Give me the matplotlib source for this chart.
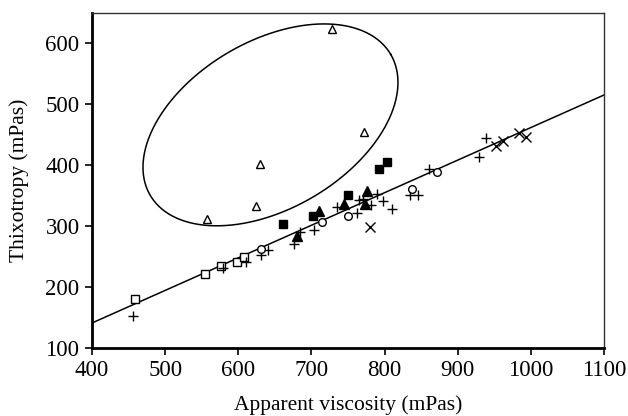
import numpy as np
import matplotlib
matplotlib.use("Agg")
import matplotlib.pyplot as plt

plt.rcParams['font.family'] = ['Liberation Serif', 'DejaVu Serif']

# data
sq_open_x = [458.8, 554.5, 576, 598.7, 607.8]
sq_open_y = [180, 221, 235, 240.5, 248.7]

plus_x = [455.6, 578.7, 610, 631, 641, 676.6, 684, 704, 735.5, 762, 765.5,
          771, 781, 790, 797.4, 810.6, 834.8, 846, 861, 929.5, 938.7]
plus_y = [152, 230.7, 241.5, 252.5, 261, 270.5, 291, 293.4, 330.6, 322, 342.6,
          343.8, 334.4, 351.9, 341.5, 327.9, 350.8, 350.8, 393, 412.6, 444.8]

circ_x = [630.6, 715, 750.5, 837, 872]
circ_y = [261.8, 306, 316.4, 360, 388.5]

tri_fill_x = [680, 710.7, 744.5, 773, 776.4]
tri_fill_y = [284, 324.6, 337, 337, 357.4]

sq_fill_x = [660.5, 702.6, 750.5, 792.8, 803.7]
sq_fill_y = [302.8, 316.4, 350.8, 393, 404.4]

tri_open_x = [556.8, 624, 629.7, 727.7, 772]
tri_open_y = [311, 332.8, 401.6, 622.5, 454.6]

cross_x = [780, 953, 962, 983.8, 993.4]
cross_y = [298.9, 431, 439.8, 451.9, 446.4]

# regression line end points
line_x = [400, 1100]
line_y = [141, 515]

fig = plt.figure(figsize=(6.28, 4.16), dpi=100)
ax = fig.add_axes([0.1465, 0.1635, 0.8153, 0.806])

ax.plot(line_x, line_y, color='black', lw=1.1)

# ellipse around the outliers (drawn in screen-like units, then back to data)
sx, sy = 0.7314, 0.61
t = np.linspace(0, 2 * np.pi, 400)
a, b, th = 139.4, 83.8, np.deg2rad(30.4)
u0, v0 = (644 - 400) * sx, (466 - 100) * sy
u = u0 + a * np.cos(t) * np.cos(th) - b * np.sin(t) * np.sin(th)
v = v0 + a * np.cos(t) * np.sin(th) + b * np.sin(t) * np.cos(th)
ax.plot(400 + u / sx, 100 + v / sy, color='black', lw=1.1)

kw = dict(ls='none', color='black', mew=1.0, clip_on=False)
ax.plot(sq_open_x, sq_open_y, marker='s', ms=5.5, mfc='white', **kw)
ax.plot(plus_x, plus_y, marker='+', ms=7.5, **kw)
ax.plot(circ_x, circ_y, marker='o', ms=5.5, mfc='white', **kw)
ax.plot(tri_fill_x, tri_fill_y, marker='^', ms=6.5, mfc='black', **kw)
ax.plot(sq_fill_x, sq_fill_y, marker='s', ms=5.5, mfc='black', **kw)
ax.plot(tri_open_x, tri_open_y, marker='^', ms=6, mfc='white', **kw)
ax.plot(cross_x, cross_y, marker='x', ms=6.5, **kw)

ax.set_xlim(400, 1100)
ax.set_ylim(100, 650)
ax.set_xticks(range(400, 1101, 100))
ax.set_yticks(range(100, 601, 100))
ax.tick_params(direction='out', length=5, width=1.2, labelsize=16.5,
               top=False, right=False, pad=4)
for s in ['left', 'bottom']:
    ax.spines[s].set_linewidth(2)
for s in ['top', 'right']:
    ax.spines[s].set_linewidth(1.0)
    ax.spines[s].set_color('#333333')

ax.set_xlabel('Apparent viscosity (mPas)', fontsize=15.5, labelpad=10)
ax.set_ylabel('Thixotropy (mPas)', fontsize=15.5, labelpad=12)

fig.savefig('out.png', dpi=100)
